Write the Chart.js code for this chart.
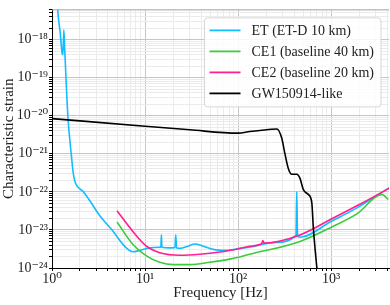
<!DOCTYPE html>
<html>
<head>
<meta charset="utf-8">
<script src="https://cdn.jsdelivr.net/npm/chart.js@4/dist/chart.umd.min.js"></script>
<style>
  html, body { margin: 0; padding: 0; background: #fff; }
</style>
</head>
<body>
<canvas id="myChart" width="390" height="305"></canvas>
<script>
// Values (frequency in Hz, characteristic strain)
const etFreq = [1.12, 1.15, 1.22, 1.29, 1.31, 1.34, 1.375, 1.48, 1.61, 1.705, 1.79, 2.15, 2.54, 3.25, 4.49, 6.04, 7.43, 8.77, 11.2, 14.4, 14.8, 15.0, 15.2, 18.5, 21.0, 21.4, 21.8, 23.7, 29.0, 34.3, 42.2, 54.1, 75.4, 105, 134, 250, 420, 428, 436, 464, 1020, 1897, 3670, 4230];
const etStrain = [3e-17, 6.5e-18, 1.66e-18, 4.2e-19, 4.0e-19, 1.8e-18, 4.5e-19, 1.0e-20, 9.8e-22, 2.74e-22, 1.68e-22, 1.03e-22, 5.9e-23, 2.4e-23, 9.5e-24, 3.7e-24, 2.67e-24, 2.9e-24, 3.38e-24, 3.52e-24, 3.52e-24, 7.4e-24, 3.52e-24, 3.38e-24, 3.4e-24, 7.4e-24, 3.4e-24, 3.27e-24, 3.74e-24, 4.28e-24, 3.74e-24, 3.08e-24, 2.9e-24, 3.27e-24, 3.52e-24, 4.72e-24, 7.2e-24, 1.0e-22, 7.3e-24, 6.45e-24, 1.71e-23, 3.8e-23, 1.03e-22, 1.26e-22];

const ce1Freq = [5, 7.43, 10.35, 14.4, 20.0, 30.3, 49.8, 81.8, 134, 464, 1020, 1897, 3526, 4125];
const ce1Strain = [1.62e-23, 4.13e-24, 2.08e-24, 1.41e-24, 1.23e-24, 1.23e-24, 1.41e-24, 1.71e-24, 2.3e-24, 5.0e-24, 1.2e-23, 2.63e-23, 8.5e-23, 6.3e-23];

const ce2Freq = [5, 7.43, 10.35, 14.4, 23.7, 38.8, 63.8, 105, 134, 180, 185, 190, 464, 1020, 1897, 3670, 4230];
const ce2Strain = [3.2e-23, 9.0e-24, 3.74e-24, 2.52e-24, 2.17e-24, 2.3e-24, 2.63e-24, 3.27e-24, 3.74e-24, 4.4e-24, 5.3e-24, 4.5e-24, 7.4e-24, 1.96e-23, 4.3e-23, 1.03e-22, 1.26e-22];

const gwFreq = [1, 10, 30.3, 100, 134, 172, 261, 295, 320, 348, 378, 428, 464, 504, 571, 621, 646, 703, 740];
const gwStrain = [8.4e-21, 5.3e-21, 4.26e-21, 3.48e-21, 3.83e-21, 4.1e-21, 4.48e-21, 2.6e-21, 9.8e-22, 4.06e-22, 2.9e-22, 2.9e-22, 2.26e-22, 1.14e-22, 8.5e-23, 5.2e-23, 1.09e-23, 1.05e-24, 3e-25];

const seriesLabels = ['ET (ET-D 10 km)', 'CE1 (baseline 40 km)', 'CE2 (baseline 20 km)', 'GW150914-like'];
const seriesColors = ['#12bdff', '#3ccb3c', '#ff1f90', '#000000'];

const serif = "'Liberation Serif', 'DejaVu Serif', serif";

// turn two arrays into {x, y} points
function pts(xs, ys) {
  return xs.map((x, i) => ({x: x, y: ys[i]}));
}

const sup = {'-': '\u207B', '0': '\u2070', '1': '\u00B9', '2': '\u00B2', '3': '\u00B3', '4': '\u2074',
             '5': '\u2075', '6': '\u2076', '7': '\u2077', '8': '\u2078', '9': '\u2079'};

function isPow10(v) {
  const e = Math.log10(v);
  return Math.abs(e - Math.round(e)) < 1e-6;
}

function powLabel(v) {
  if (!isPow10(v)) return '';
  const e = String(Math.round(Math.log10(v)));
  return '10' + e.split('').map(c => sup[c]).join('');
}

// 1..9 x 10^n ticks, like matplotlib's log locator
function logTicks(scale) {
  const ticks = [];
  const lo = Math.floor(Math.log10(scale.min));
  const hi = Math.ceil(Math.log10(scale.max));
  for (let e = lo; e <= hi; e++) {
    for (let s = 1; s <= 9; s++) {
      const v = s * Math.pow(10, e);
      if (v >= scale.min * 0.9999 && v <= scale.max * 1.0001) {
        ticks.push({value: v, major: s === 1});
      }
    }
  }
  scale.ticks = ticks;
}

const gridColor = c => (c.tick && c.tick.major) ? '#c6c6c6' : '#ebebeb';

// legend drawn inside the plot, top right, with a rounded frame
const boxLegend = {
  id: 'boxLegend',
  afterDraw(chart) {
    const ctx = chart.ctx;
    const area = chart.chartArea;
    ctx.save();
    // thin grey top frame line
    ctx.strokeStyle = '#a8a8a8';
    ctx.lineWidth = 1;
    ctx.beginPath();
    ctx.moveTo(area.left, area.top + 0.5);
    ctx.lineTo(area.right, area.top + 0.5);
    ctx.stroke();

    ctx.font = '14px ' + serif;
    let w = 0;
    seriesLabels.forEach(t => { w = Math.max(w, ctx.measureText(t).width); });
    const rowH = 21;
    const boxW = 47 + w + 7;
    const boxH = rowH * seriesLabels.length + 5;
    const x0 = area.right - 8 - boxW;
    const y0 = area.top + 8.5;
    ctx.beginPath();
    ctx.roundRect(x0, y0, boxW, boxH, 3);
    ctx.fillStyle = 'rgba(255,255,255,0.85)';
    ctx.fill();
    ctx.strokeStyle = '#d6d6d6';
    ctx.lineWidth = 1;
    ctx.stroke();
    ctx.textBaseline = 'middle';
    seriesLabels.forEach((t, i) => {
      const cy = y0 + 12.5 + i * rowH;
      ctx.beginPath();
      ctx.moveTo(x0 + 5, cy);
      ctx.lineTo(x0 + 36, cy);
      ctx.strokeStyle = seriesColors[i];
      ctx.lineWidth = 1.8;
      ctx.stroke();
      ctx.fillStyle = '#222';
      ctx.fillText(t, x0 + 47, cy + 0.5);
    });
    ctx.restore();
  }
};

const ctx = document.getElementById('myChart');

const myChart = new Chart(ctx, {
  type: 'line',
  data: {
    datasets: [
      {label: seriesLabels[0], data: pts(etFreq, etStrain), borderColor: seriesColors[0], order: 4},
      {label: seriesLabels[1], data: pts(ce1Freq, ce1Strain), borderColor: seriesColors[1], order: 3},
      {label: seriesLabels[2], data: pts(ce2Freq, ce2Strain), borderColor: seriesColors[2], order: 2},
      {label: seriesLabels[3], data: pts(gwFreq, gwStrain), borderColor: seriesColors[3], order: 1}
    ]
  },
  options: {
    responsive: false,
    animation: false,
    events: [],
    elements: {
      point: {radius: 0},
      line: {borderWidth: 1.6, cubicInterpolationMode: 'monotone', fill: false}
    },
    layout: {padding: {top: 0, right: 1, left: 0, bottom: 3}},
    plugins: {
      legend: {display: false},
      tooltip: {enabled: false}
    },
    scales: {
      x: {
        type: 'logarithmic',
        min: 1,
        max: 4200,
        afterBuildTicks: logTicks,
        afterFit: s => { s.height = 34; },
        border: {color: '#000', width: 1},
        grid: {color: gridColor, tickColor: '#000', tickLength: 3, lineWidth: 1},
        ticks: {
          autoSkip: false, maxRotation: 0, padding: 0,
          color: '#222', font: {family: serif, size: 14},
          callback: v => powLabel(v)
        },
        title: {display: true, text: 'Frequency [Hz]', color: '#222', font: {family: serif, size: 15}, padding: 0}
      },
      y: {
        type: 'logarithmic',
        min: 1e-24,
        max: 6.2e-18,
        afterBuildTicks: logTicks,
        afterFit: s => { s.width = 52; },
        border: {color: '#000', width: 1},
        grid: {color: gridColor, tickColor: '#000', tickLength: 3, lineWidth: 1},
        ticks: {
          autoSkip: false, padding: 1,
          color: '#222', font: {family: serif, size: 14},
          callback: v => powLabel(v)
        },
        title: {display: true, text: 'Characteristic strain', color: '#222', font: {family: serif, size: 15}, padding: 0}
      }
    }
  },
  plugins: [boxLegend]
});
</script>
</body>
</html>
